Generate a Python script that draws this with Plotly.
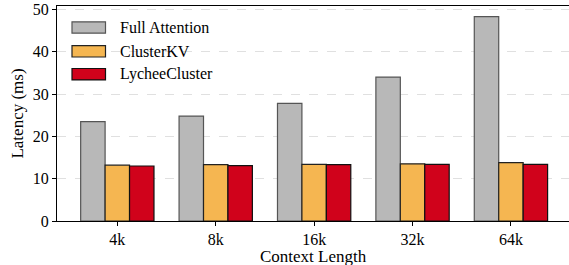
import plotly.graph_objects as go

categories = ["4k", "8k", "16k", "32k", "64k"]
full_attention = [23.5, 24.8, 27.8, 34.0, 48.3]
cluster_kv = [13.2, 13.3, 13.4, 13.5, 13.8]
lychee_cluster = [13.0, 13.1, 13.3, 13.4, 13.4]

series_names = ["Full Attention", "ClusterKV", "LycheeCluster"]
fill_colors = ["#b8b8b8", "#f5b651", "#d0021b"]
edge_colors = ["#555555", "#222222", "#111111"]

FONT = "Liberation Serif, Times New Roman, serif"

fig = go.Figure()
for name, vals, fc, ec in zip(series_names, [full_attention, cluster_kv, lychee_cluster],
                              fill_colors, edge_colors):
    fig.add_trace(go.Bar(name=name, x=categories, y=vals, showlegend=False,
                         marker=dict(color=fc, line=dict(color=ec, width=1.2))))

# custom legend with wide patches (paper coordinates)
H = 215.0
W = 512.0
def px2x(p):
    return (p - 57) / W
def px2y(p):
    return (221 - p) / H

legend_centers = [27.5, 51.3, 74.2]
for name, fc, ec, cy in zip(series_names, fill_colors, edge_colors, legend_centers):
    fig.add_shape(type="rect", xref="paper", yref="paper",
                  x0=px2x(72), x1=px2x(105.5), y0=px2y(cy + 5.7), y1=px2y(cy - 5.7),
                  fillcolor=fc, line=dict(color=ec, width=1.2))
    fig.add_annotation(xref="paper", yref="paper", x=px2x(118), y=px2y(cy),
                       text=name, showarrow=False, xanchor="left", yanchor="middle",
                       font=dict(size=16, family=FONT, color="black"))

# x-axis title placed precisely
fig.add_annotation(xref="paper", yref="paper", x=px2x(313), y=px2y(256.5),
                   text="Context Length", showarrow=False, xanchor="center", yanchor="middle",
                   font=dict(size=17, family=FONT, color="black"))

fig.update_layout(
    width=569, height=265,
    margin=dict(l=57, r=0, t=6, b=44),
    barmode="group", bargap=0.255, bargroupgap=0,
    plot_bgcolor="white", paper_bgcolor="white",
    font=dict(family=FONT, size=16, color="black"),
    showlegend=False,
    xaxis=dict(range=[-0.613, 4.59], showline=True, linecolor="black", linewidth=1.2,
               mirror=True, ticks="outside", ticklen=4, tickcolor="black",
               automargin=False, tickfont=dict(size=16)),
    yaxis=dict(range=[0, 50.8], showline=True, linecolor="black", linewidth=1.2,
               mirror=True, ticks="outside", ticklen=4, tickcolor="black",
               tickvals=[0, 10, 20, 30, 40, 50],
               showgrid=True, gridcolor="#e0e0e0", griddash="dash", gridwidth=1,
               zeroline=False, automargin=False,
               title=dict(text="Latency (ms)", font=dict(size=17), standoff=4),
               tickfont=dict(size=16)),
)

fig.write_html("out.html", config={"displayModeBar": False},
               post_script="document.body.style.margin='0';")
